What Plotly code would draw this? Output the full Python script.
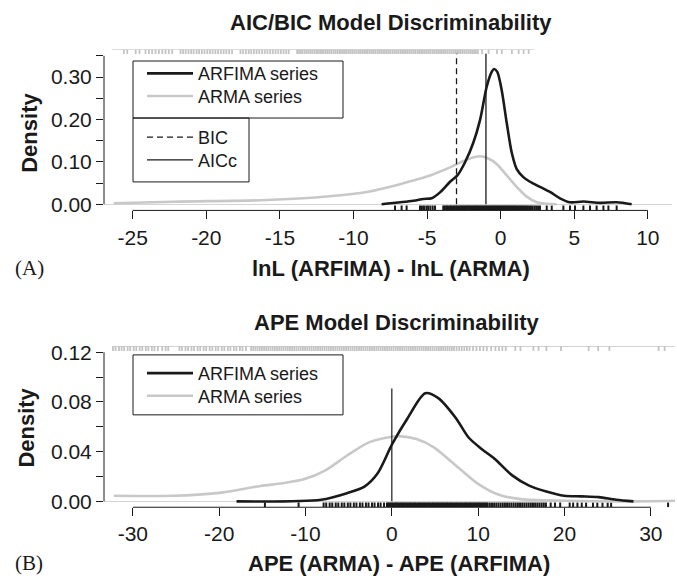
import plotly.graph_objects as go

# ---------------- data ----------------
# Panel A: lnL(ARFIMA) - lnL(ARMA) densities
A_ARFIMA_X = [-8.09, -5.93, -5.25, -4.69, -4.12, -3.44, -2.94, -2.42, -1.86, -1.40, -0.95, -0.61, -0.45,
              -0.23, 0.07, 0.41, 0.75, 1.09, 1.54, 1.99, 2.67, 3.35, 4.03, 4.71, 5.62, 6.75, 7.88, 8.90]
A_ARFIMA_Y = [0.000, 0.008, 0.0125, 0.014, 0.028, 0.053, 0.068, 0.099, 0.145, 0.199, 0.277, 0.312, 0.319,
              0.312, 0.269, 0.192, 0.122, 0.083, 0.064, 0.053, 0.041, 0.029, 0.014, 0.0046, 0.0063, 0.0032, 0.0046, 0.0]
A_ARMA_X = [-26.3, -22.2, -16.3, -13.4, -10.4, -8.9, -7.5, -6.16, -4.8, -3.44, -2.31, -1.4, -0.84, -0.27,
            0.41, 1.09, 1.77, 2.45, 3.13, 3.8]
A_ARMA_Y = [0.0023, 0.006, 0.0093, 0.014, 0.023, 0.030, 0.041, 0.054, 0.068, 0.087, 0.105, 0.113, 0.108, 0.095,
            0.068, 0.041, 0.018, 0.0046, 0.001, 0.0]
A_CRITERIA = ["BIC", "AICc"]
A_CRITERIA_X = [-3.0, -1.0]
A_CRITERIA_TOP = 0.355

A_RUG_ARFIMA = [-7.18, -6.73, -6.39, -5.48, -5.35, -5.21, -5.05, -4.93, -4.78, -4.62, -4.46,
                -3.90, -3.82, -3.71, -3.63, -3.55, -3.44, -3.37, -3.28, -3.19, -3.11, -3.02, -2.95, -2.86,
                -2.78, -2.69, -2.61, -2.54, -2.45, -2.37, -2.30, -2.21, -2.14, -2.06, -1.98, -1.91, -1.83,
                -1.75, -1.68, -1.60, -1.52, -1.45, -1.37, -1.30, -1.22, -1.15, -1.07, -0.99, -0.92, -0.84,
                -0.77, -0.69, -0.62, -0.54, -0.47, -0.39, -0.32, -0.24, -0.17, -0.09, -0.02, 0.06, 0.13,
                0.21, 0.28, 0.36, 0.44, 0.51, 0.59, 0.67, 0.74, 0.82, 0.90, 0.98, 1.06, 1.14, 1.22, 1.31,
                1.40, 1.48, 1.57, 1.66, 1.76, 1.85, 1.95, 2.06, 2.17, 2.29, 2.41, 2.54, 2.67,
                3.13, 3.47, 4.26, 4.71, 5.05, 5.62, 6.07, 6.52, 6.98, 7.32, 7.88]
A_RUG_ARMA = [-25.60, -25.37, -24.80, -24.54,
              -24.13, -23.90, -23.68, -23.45, -23.22, -22.99, -22.77, -22.55, -22.32,
              -21.75, -21.58, -21.40, -21.21, -21.03, -20.86, -20.66, -20.49, -20.30, -20.12, -19.93,
              -19.75, -19.57, -19.38, -19.20, -19.01, -18.82, -18.64, -18.45, -18.25,
              -17.68, -17.50, -17.31, -17.12, -16.95, -16.76, -16.58, -16.40, -16.21, -16.03, -15.85,
              -15.66, -15.48, -15.29, -15.11, -14.93, -14.75, -14.57, -14.40,
              -13.83, -13.70, -13.57, -13.45, -13.31, -13.18, -13.05, -12.92, -12.80, -12.66, -12.53,
              -12.41, -12.27, -12.14, -12.02, -11.88, -11.75, -11.62, -11.50, -11.36, -11.23, -11.10,
              -10.97, -10.85, -10.71, -10.58, -10.46, -10.32, -10.19, -10.06, -9.93, -9.80, -9.67, -9.55,
              -9.41, -9.28, -9.15, -9.03, -8.89, -8.76, -8.64, -8.51, -8.37, -8.25, -8.12, -7.99, -7.86,
              -7.73, -7.60, -7.48, -7.34, -7.21, -7.09, -6.96, -6.82, -6.70, -6.57, -6.44, -6.31, -6.18,
              -6.05, -5.92, -5.80, -5.66, -5.54, -5.41, -5.28, -5.15, -5.02, -4.89, -4.77, -4.63, -4.51,
              -4.38, -4.25, -4.12, -3.99, -3.86, -3.74, -3.61, -3.48, -3.35, -3.22, -3.09, -2.96, -2.84,
              -2.71, -2.58, -2.45, -2.32, -2.19, -2.06, -1.94, -1.81, -1.68, -1.55,
              -1.27, -0.82, -0.25, 0.08, 0.76, 1.22, 1.56, 1.90]

# Panel B: APE(ARMA) - APE(ARFIMA) densities
B_ARFIMA_X = [-17.99, -8.19, -5.18, -3.17, -1.66, 0.05, 1.86, 3.87, 5.38, 7.39, 8.89, 10.4, 11.9, 13.9,
              15.9, 17.9, 19.95, 21.96, 23.97, 25.98, 27.99]
B_ARFIMA_Y = [0.0, 0.0013, 0.0066, 0.0119, 0.0224, 0.0462, 0.0673, 0.087, 0.0831, 0.0673, 0.0514, 0.0422,
              0.0343, 0.0211, 0.0127, 0.0079, 0.0045, 0.004, 0.0034, 0.0013, 0.0]
B_ARMA_X = [-32.2, -25.3, -20.25, -15.2, -12.7, -10.2, -7.69, -5.18, -2.66, 0.05, 0.85, 2.86, 4.87, 7.39,
            9.9, 12.4, 14.9, 19.95, 28.0, 32.8]
B_ARMA_Y = [0.0045, 0.0045, 0.0066, 0.0124, 0.0145, 0.0177, 0.025, 0.0369, 0.0475, 0.052, 0.0525, 0.0501,
            0.0435, 0.029, 0.0145, 0.0053, 0.0018, 0.0005, 0.0, 0.0005]
B_REF_X = 0.0
B_REF_TOP = 0.0908

B_RUG_ARMA = [-32.3, -32.0, -31.6, -31.3, -31.0, -30.6, -30.3, -29.9, -29.6, -29.2, -28.9, -28.5, -28.2,
              -27.8, -27.5, -27.1, -26.6, -26.2, -25.9,
              -24.6, -24.3, -23.9, -23.6, -23.2, -22.9, -22.5, -22.2, -21.8, -21.5, -21.1, -20.8, -20.4,
              -20.1, -19.7, -19.4, -19.0, -18.7, -18.3, -18.0, -17.6, -17.3, -16.9,
              -16.3, -16.05, -15.8, -15.55, -15.3, -15.05, -14.8, -14.55, -14.3, -14.05, -13.8, -13.55,
              -13.3, -13.05, -12.8, -12.55, -12.3, -12.05, -11.8, -11.55, -11.3, -11.05, -10.8, -10.55,
              -10.3, -10.05, -9.8, -9.55, -9.3, -9.05, -8.8, -8.55, -8.3, -8.05, -7.8, -7.55, -7.3, -7.05,
              -6.8, -6.55, -6.3, -6.05, -5.8, -5.55, -5.3, -5.05, -4.8, -4.55, -4.3, -4.05, -3.8, -3.55,
              -3.3, -3.05, -2.8, -2.55, -2.3, -2.05, -1.8, -1.55, -1.3, -1.05, -0.8, -0.55, -0.3, -0.05,
              0.2, 0.45, 0.7, 0.95, 1.2, 1.45, 1.7, 1.95, 2.2, 2.45, 2.7, 2.95, 3.2, 3.45, 3.7, 3.95, 4.2,
              4.45, 4.7, 4.95, 5.2, 5.45, 5.7, 5.95, 6.2, 6.45, 6.7, 6.95, 7.2, 7.5, 7.8, 8.1, 8.4, 8.7,
              9.0, 9.4, 9.8, 10.2, 10.6, 11.0, 11.5, 12.0, 12.4, 12.8,
              13.2, 14.3, 14.9, 16.4, 17.0, 17.9, 19.6, 22.8, 23.9, 25.2, 30.9, 31.6]
B_RUG_ARFIMA = [-14.7, -10.8,
                -7.9, -7.6, -7.2, -6.9, -6.5, -6.2, -5.8, -5.5, -5.1, -4.8, -4.4, -4.1, -3.7, -3.4, -3.0,
                -2.7, -2.3, -2.0, -1.6, -1.3, -0.9,
                -0.56, -0.41, -0.27, -0.12, 0.03, 0.18, 0.33, 0.47, 0.62, 0.77, 0.92, 1.07, 1.21, 1.36,
                1.51, 1.66, 1.81, 1.95, 2.10, 2.25, 2.40, 2.55, 2.69, 2.84, 2.99, 3.14, 3.29, 3.43, 3.58,
                3.73, 3.88, 4.03, 4.17, 4.32, 4.47, 4.62, 4.77, 4.91, 5.06, 5.21, 5.36, 5.51, 5.65, 5.80,
                5.95, 6.10, 6.25, 6.39, 6.54, 6.69, 6.84, 6.99, 7.13, 7.28, 7.43, 7.58, 7.73, 7.87, 8.02,
                8.17, 8.32, 8.47, 8.61, 8.76, 8.91, 9.06, 9.21, 9.35, 9.50, 9.65, 9.80, 9.95, 10.09,
                10.24, 10.39, 10.54, 10.69, 10.83, 10.98, 11.1,
                11.35, 11.6, 11.85, 12.1, 12.35, 12.6, 12.85, 13.1, 13.35, 13.6, 13.85, 14.1, 14.35,
                14.6, 14.85, 15.1, 15.35, 15.6, 15.85, 16.1, 16.35, 16.6, 16.85, 17.1, 17.35, 17.6, 17.85,
                18.4, 18.9, 19.5, 20.6, 21.0, 21.5, 22.0, 22.5, 23.3, 23.8, 24.4, 25.0, 25.4,
                32.0]

A_XTICKS = [-25, -20, -15, -10, -5, 0, 5, 10]
A_YTICKS = [0.00, 0.05, 0.10, 0.15, 0.20, 0.25, 0.30, 0.35]
A_YLABELS = ["0.00", "", "0.10", "", "0.20", "", "0.30", ""]
B_XTICKS = [-30, -20, -10, 0, 10, 20, 30]
B_YTICKS = [0.00, 0.02, 0.04, 0.06, 0.08, 0.10, 0.12]
B_YLABELS = ["0.00", "", "0.04", "", "0.08", "", "0.12"]

# ---------------- styling / layout ----------------
W, H = 677, 583
FONT = "Liberation Sans, Arial, Helvetica, sans-serif"
BLACK = "#1a1a1a"
GREY = "#c8c8c8"
RUGGREY = "#c4c4c4"

A_XRANGE = [-26.95, 11.64]
A_YRANGE = [-0.0146, 0.3656]
B_XRANGE = [-33.34, 32.80]
B_YRANGE = [-0.00475, 0.125]


def px_x(p):
    return p / W


def px_y(p):
    return 1 - p / H


def rug(values, y0, y1):
    xs, ys = [], []
    for v in values:
        xs += [v, v, None]
        ys += [y0, y1, None]
    return xs, ys


fig = go.Figure()

RUGW_BLACK = 2.0
RUGW_GREY = 1.8

# ---- Panel A ----
a_rug_len = 0.03 * (A_YRANGE[1] - A_YRANGE[0])
xs, ys = rug(A_RUG_ARMA, A_YRANGE[1], A_YRANGE[1] - a_rug_len)
fig.add_trace(go.Scatter(x=xs, y=ys, mode="lines", line=dict(color=RUGGREY, width=RUGW_GREY, simplify=False),
                         showlegend=False, hoverinfo="skip", xaxis="x", yaxis="y", cliponaxis=False))
fig.add_trace(go.Scatter(x=[min(A_RUG_ARMA) - 0.8, max(A_RUG_ARMA) + 0.4], y=[A_YRANGE[1], A_YRANGE[1]],
                         mode="lines", line=dict(color=RUGGREY, width=1.2), showlegend=False,
                         hoverinfo="skip", xaxis="x", yaxis="y", cliponaxis=False))
xs, ys = rug(A_RUG_ARFIMA, A_YRANGE[0], A_YRANGE[0] + a_rug_len)
fig.add_trace(go.Scatter(x=xs, y=ys, mode="lines", line=dict(color=BLACK, width=RUGW_BLACK, simplify=False),
                         showlegend=False, hoverinfo="skip", xaxis="x", yaxis="y", cliponaxis=False))

fig.add_trace(go.Scatter(x=A_ARMA_X, y=A_ARMA_Y, mode="lines", name="ARMA series",
                         line=dict(color=GREY, width=2.6, shape="spline", smoothing=0.8),
                         legend="legend2", xaxis="x", yaxis="y", hoverinfo="skip"))
fig.add_trace(go.Scatter(x=A_ARFIMA_X, y=A_ARFIMA_Y, mode="lines", name="ARFIMA series",
                         line=dict(color=BLACK, width=2.6, shape="spline", smoothing=0.8),
                         legend="legend", xaxis="x", yaxis="y", hoverinfo="skip"))
dashes = ["6px,4px", "solid"]
for name, xv, d, lg in zip(A_CRITERIA, A_CRITERIA_X, dashes, ["legend3", "legend4"]):
    fig.add_trace(go.Scatter(x=[xv, xv], y=[0, A_CRITERIA_TOP], mode="lines", name=name,
                             line=dict(color=BLACK, width=1.3, dash=d),
                             legend=lg, xaxis="x", yaxis="y", hoverinfo="skip"))

# ---- Panel B ----
b_rug_len = 0.03 * (B_YRANGE[1] - B_YRANGE[0])
xs, ys = rug(B_RUG_ARMA, B_YRANGE[1], B_YRANGE[1] - b_rug_len)
fig.add_trace(go.Scatter(x=xs, y=ys, mode="lines", line=dict(color=RUGGREY, width=RUGW_GREY, simplify=False),
                         showlegend=False, hoverinfo="skip", xaxis="x2", yaxis="y2", cliponaxis=False))
fig.add_trace(go.Scatter(x=[min(B_RUG_ARMA), B_XRANGE[1]], y=[B_YRANGE[1], B_YRANGE[1]], mode="lines",
                         line=dict(color=RUGGREY, width=1.2), showlegend=False, hoverinfo="skip",
                         xaxis="x2", yaxis="y2", cliponaxis=False))
xs, ys = rug(B_RUG_ARFIMA, B_YRANGE[0], B_YRANGE[0] + b_rug_len)
fig.add_trace(go.Scatter(x=xs, y=ys, mode="lines", line=dict(color=BLACK, width=RUGW_BLACK, simplify=False),
                         showlegend=False, hoverinfo="skip", xaxis="x2", yaxis="y2", cliponaxis=False))

fig.add_trace(go.Scatter(x=B_ARMA_X, y=B_ARMA_Y, mode="lines", name="ARMA series",
                         line=dict(color=GREY, width=2.6, shape="spline", smoothing=0.8),
                         legend="legend6", xaxis="x2", yaxis="y2", hoverinfo="skip"))
fig.add_trace(go.Scatter(x=B_ARFIMA_X, y=B_ARFIMA_Y, mode="lines", name="ARFIMA series",
                         line=dict(color=BLACK, width=2.6, shape="spline", smoothing=0.8),
                         legend="legend5", xaxis="x2", yaxis="y2", hoverinfo="skip"))
fig.add_trace(go.Scatter(x=[B_REF_X, B_REF_X], y=[0, B_REF_TOP], mode="lines",
                         line=dict(color=BLACK, width=1.2), showlegend=False,
                         xaxis="x2", yaxis="y2", hoverinfo="skip"))

tickfont = dict(family=FONT, size=21, color=BLACK)
common_x = dict(showgrid=False, zeroline=False, showline=False, ticks="outside", ticklen=8,
                tickcolor=BLACK, tickwidth=1, tickfont=tickfont, fixedrange=True)
common_y = dict(showgrid=False, zeroline=True, zerolinecolor="#d4d4d4", zerolinewidth=1, showline=False,
                ticks="outside", ticklen=7, tickcolor=BLACK, tickwidth=1, tickfont=tickfont, fixedrange=True)

legend_common = dict(borderwidth=0, bgcolor="rgba(255,255,255,0)", itemwidth=46,
                     font=dict(family=FONT, size=18, color=BLACK), xanchor="left", yanchor="top",
                     tracegroupgap=0, itemclick=False, itemdoubleclick=False)

# one legend box per entry so that the row spacing matches the reference
LEGEND_TOPS = {"legend": 51, "legend2": 74, "legend3": 116, "legend4": 139,
               "legend5": 356, "legend6": 379}

fig.update_layout(
    width=W, height=H, margin=dict(l=0, r=0, t=0, b=0),
    paper_bgcolor="white", plot_bgcolor="white",
    xaxis=dict(domain=[px_x(104), px_x(672)], range=A_XRANGE, anchor="y",
               tickvals=A_XTICKS, ticktext=[str(v) for v in A_XTICKS], **common_x),
    yaxis=dict(domain=[px_y(209), px_y(45)], range=A_YRANGE, anchor="x",
               tickvals=A_YTICKS, ticktext=A_YLABELS, **common_y),
    xaxis2=dict(domain=[px_x(104), px_x(675)], range=B_XRANGE, anchor="y2",
                tickvals=B_XTICKS, ticktext=[str(v) for v in B_XTICKS], **common_x),
    yaxis2=dict(domain=[px_y(511), px_y(347)], range=B_YRANGE, anchor="x2",
                tickvals=B_YTICKS, ticktext=B_YLABELS, **common_y),
    showlegend=True,
)
fig.update_layout({k: dict(x=px_x(142), y=px_y(t), **legend_common) for k, t in LEGEND_TOPS.items()})

# axis lines drawn only over the tick span (R style) + legend frames
shapes = [
    dict(type="line", xref="x domain", yref="y", x0=0, x1=0, y0=A_YTICKS[0], y1=A_YTICKS[-1],
         line=dict(color=BLACK, width=1)),
    dict(type="line", xref="x", yref="y domain", x0=A_XTICKS[0], x1=A_XTICKS[-1], y0=0, y1=0,
         line=dict(color=BLACK, width=1)),
    dict(type="line", xref="x2 domain", yref="y2", x0=0, x1=0, y0=B_YTICKS[0], y1=B_YTICKS[-1],
         line=dict(color=BLACK, width=1)),
    dict(type="line", xref="x2", yref="y2 domain", x0=B_XTICKS[0], x1=B_XTICKS[-1], y0=0, y1=0,
         line=dict(color=BLACK, width=1)),
]
for (l, t, r, b) in [(133, 57, 343, 115), (133, 115, 249, 180), (133, 356, 343, 417)]:
    shapes.append(dict(type="rect", xref="paper", yref="paper", x0=px_x(l), x1=px_x(r),
                       y0=px_y(b), y1=px_y(t), line=dict(color=BLACK, width=1)))
fig.update_layout(shapes=shapes)

bold = dict(family=FONT, size=22, color=BLACK)
serif = dict(family="Liberation Serif, Times New Roman, serif", size=21, color=BLACK)
annots = [
    dict(text="<b>AIC/BIC Model Discriminability</b>", x=px_x(391), y=px_y(18), font=bold),
    dict(text="<b>lnL (ARFIMA) - lnL (ARMA)</b>", x=px_x(391), y=px_y(268), font=bold),
    dict(text="<b>Density</b>", x=px_x(30), y=px_y(130), font=bold, textangle=-90),
    dict(text="(A)", x=px_x(29), y=px_y(268), font=serif),
    dict(text="<b>APE Model Discriminability</b>", x=px_x(397), y=px_y(323), font=bold),
    dict(text="<b>APE (ARMA) - APE (ARFIMA)</b>", x=px_x(399), y=px_y(568), font=bold),
    dict(text="<b>Density</b>", x=px_x(27), y=px_y(430), font=bold, textangle=-90),
    dict(text="(B)", x=px_x(29), y=px_y(568), font=serif),
]
for a in annots:
    fig.add_annotation(xref="paper", yref="paper", xanchor="center", yanchor="middle",
                       showarrow=False, **a)

fig.write_html("out.html")
